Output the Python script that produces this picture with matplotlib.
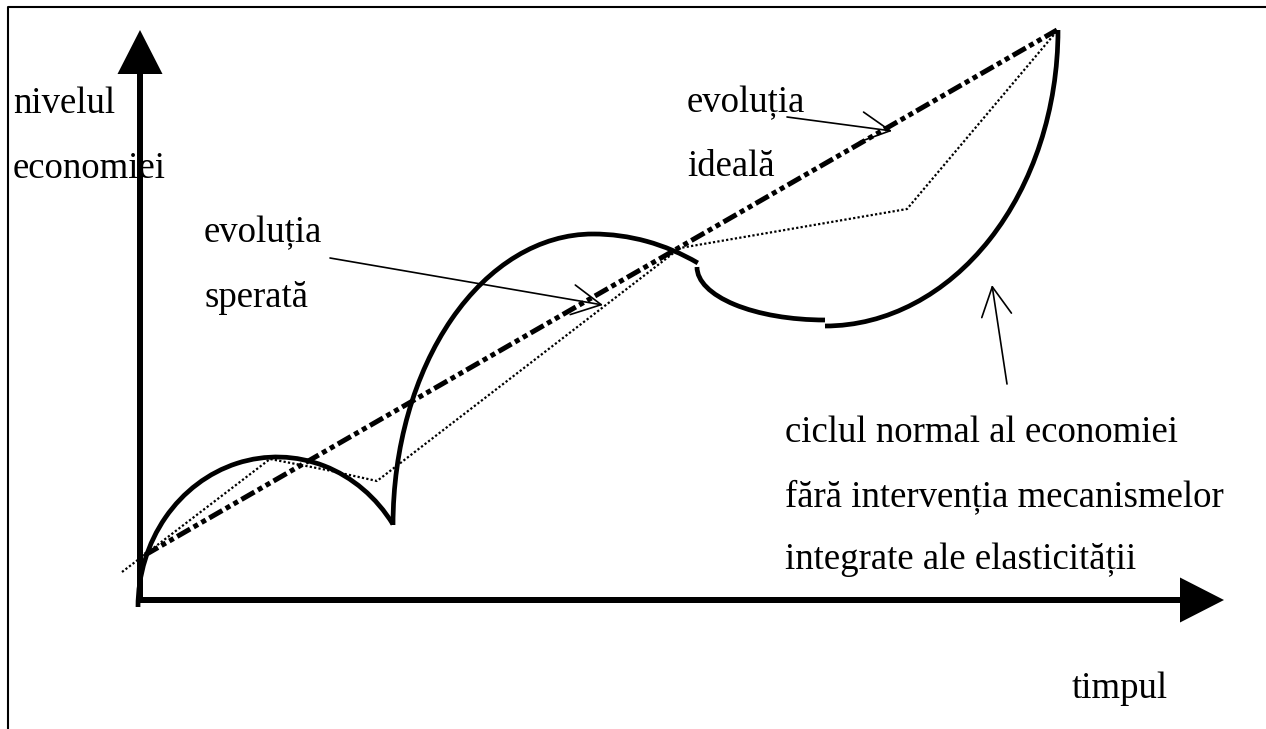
import numpy as np
import matplotlib
matplotlib.use("Agg")
import matplotlib.pyplot as plt
from matplotlib.patches import Arc

plt.rcParams['font.family'] = ['Liberation Serif', 'DejaVu Serif']
plt.rcParams['lines.scale_dashes'] = False

W, H = 1266, 729

# all positions in pixels, y counted from the top
frame_x = [8, 8, 1266]
frame_y = [729, 7, 7]

# axis arrows: start, end
y_axis = [(140, 603), (140, 30)]
x_axis = [(137, 600), (1224, 600)]

# ciclul normal: elliptical arcs (cx, cy, width, height, theta1, theta2)
# angles are polar angles (y up), as Arc expects
cycle_cx = [277, 593, 593, 825, 825]
cycle_cy = [607, 525, 525, 267, 30]
cycle_w = [278, 400, 482, 256, 466]
cycle_h = [300, 582, 582, 106, 592]
cycle_t1 = [35.5, 90, 68.2, 180, 270]
cycle_t2 = [180, 180, 90, 270, 360]

# evolutia ideala (dash dot dot)
ideal_x = [145, 1057]
ideal_y = [555, 30]

# evolutia sperata (dotted)
hoped_x = [122, 270, 327, 377, 680, 907, 1057]
hoped_y = [572, 459, 470, 481, 248, 209, 31]

# texts: (x, baseline y)
labels = ["nivelul", "economiei", "evoluția", "sperată", "evoluția", "ideală",
          "ciclul normal al economiei", "fără intervenția mecanismelor",
          "integrate ale elasticității", "timpul"]
label_x = [13, 13, 204, 204, 687, 687, 785, 785, 785, 1072]
label_y = [113, 178, 242, 307, 112, 176, 442, 506, 569, 698]

# pointer arrows: (tail, tip)
pointers = [((330, 258), (603, 305)),
            ((787, 117), (892, 131)),
            ((1007, 384), (992, 285))]


def up(y):
    return H - np.asarray(y, dtype=float)


fig = plt.figure(figsize=(W / 100, H / 100), dpi=100)
ax = fig.add_axes([0, 0, 1, 1])
ax.set_xlim(0, W)
ax.set_ylim(0, H)
ax.axis('off')

# frame of the table cell
ax.plot(frame_x, up(frame_y), color='black', lw=1.5, solid_capstyle='butt')

# axes with filled heads
for (x0, y0), (x1, y1) in [y_axis, x_axis]:
    ax.arrow(x0, up(y0), x1 - x0, up(y1) - up(y0), width=6, head_width=45,
             head_length=44, length_includes_head=True, fc='black', ec='none')

# normal cycle
for i in range(len(cycle_cx)):
    ax.add_patch(Arc((cycle_cx[i], up(cycle_cy[i])), cycle_w[i], cycle_h[i],
                     theta1=cycle_t1[i], theta2=cycle_t2[i],
                     color='black', lw=3.4))

ax.plot(ideal_x, up(ideal_y), color='black', lw=3.6,
        linestyle=(0, (10.8, 2.9, 3.6, 2.9, 3.6, 2.9)))
ax.plot(hoped_x, up(hoped_y), color='black', lw=1.6,
        linestyle=(0, (1.6, 1.6)))

for s, x, y in zip(labels, label_x, label_y):
    ax.text(x, up(y), s, fontsize=26.5, ha='left', va='baseline', color='black')

for tail, tip in pointers:
    ax.annotate('', xy=(tip[0], up(tip[1])), xytext=(tail[0], up(tail[1])),
                arrowprops=dict(arrowstyle='->,head_length=1.04,head_width=0.54',
                                mutation_scale=20, lw=1.2, color='black',
                                shrinkA=0, shrinkB=0))

fig.savefig("out.png", dpi=100, facecolor='white')
